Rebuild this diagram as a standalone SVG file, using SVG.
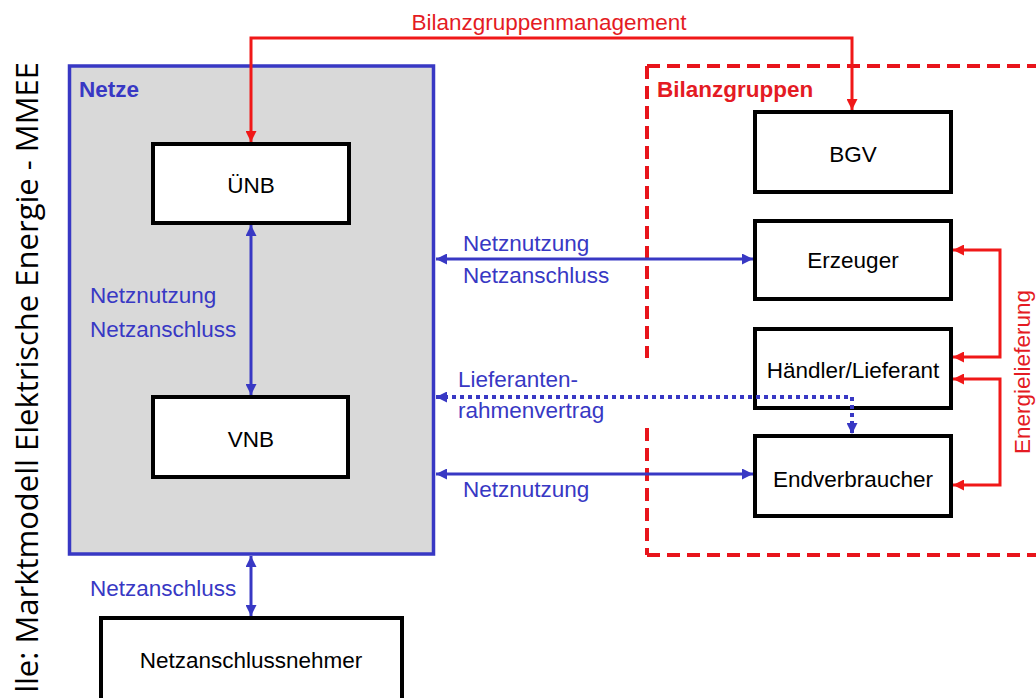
<svg xmlns="http://www.w3.org/2000/svg" width="1036" height="698" viewBox="0 0 1036 698">
<defs>
<style>
.box{fill:#fff;stroke:#000;stroke-width:4}
.lbl{font-family:"Liberation Sans",Arial,sans-serif;font-size:22.5px}
.blk{fill:#000}
.blue{fill:#3838c4}
.red{fill:#e41b23}
.b{font-weight:bold}
.bl{fill:none;stroke:#3838c4;stroke-width:3}
.rl{fill:none;stroke:#f01818;stroke-width:3}
.dot{fill:none;stroke:#3838c4;stroke-width:4;stroke-dasharray:4 4}
.dash{fill:none;stroke:#e8141b;stroke-width:4;stroke-dasharray:13 7}
</style>
<marker id="ab" viewBox="0 0 10 10" refX="10" refY="5" markerUnits="userSpaceOnUse" markerWidth="11" markerHeight="11" orient="auto-start-reverse"><path d="M0,0 L10,5 L0,10 z" fill="#3838c4"/></marker>
<marker id="ar" viewBox="0 0 10 10" refX="10" refY="5" markerUnits="userSpaceOnUse" markerWidth="11" markerHeight="11" orient="auto-start-reverse"><path d="M0,0 L10,5 L0,10 z" fill="#f01818"/></marker>
</defs>
<rect width="1036" height="698" fill="#fff"/>

<text class="lbl" style="font-family:'Open Sans','Noto Sans',sans-serif;font-size:31px" fill="#000" text-anchor="end" transform="translate(38,62) rotate(-90)">lle: Marktmodell Elektrische Energie - MMEE</text>

<g id="netze">
<rect x="69.5" y="66" width="364" height="488" fill="#d9d9d9" stroke="#3838c4" stroke-width="3.5"/>
<text class="lbl blue b" x="79" y="97">Netze</text>
</g>

<g id="bilanzgruppen">
<path class="dash" d="M647,66 H1040 M647,555 H1040 M647,66 V358 M647,428 V555"/>
<text class="lbl red b" x="657" y="97">Bilanzgruppen</text>
</g>

<g id="unb"><rect class="box" x="153" y="144" width="196" height="79"/><text class="lbl blk" x="251" y="193" text-anchor="middle">ÜNB</text></g>
<g id="vnb"><rect class="box" x="153" y="397" width="195" height="80"/><text class="lbl blk" x="251" y="447" text-anchor="middle">VNB</text></g>
<g id="netzanschlussnehmer"><rect class="box" x="101" y="618" width="301" height="95"/><text class="lbl blk" x="251" y="668" text-anchor="middle">Netzanschlussnehmer</text></g>
<g id="bgv"><rect class="box" x="755" y="112" width="196" height="80"/><text class="lbl blk" x="853" y="162" text-anchor="middle">BGV</text></g>
<g id="erzeuger"><rect class="box" x="755" y="221" width="196" height="78"/><text class="lbl blk" x="853" y="268" text-anchor="middle">Erzeuger</text></g>
<g id="haendler"><rect class="box" x="755" y="329" width="196" height="79"/><text class="lbl blk" x="853" y="378" text-anchor="middle">Händler/Lieferant</text></g>
<g id="endverbraucher"><rect class="box" x="755" y="436" width="196" height="80"/><text class="lbl blk" x="853" y="487" text-anchor="middle">Endverbraucher</text></g>

<g id="connectors">
<path class="rl" d="M251,142 V38 H852 V110" marker-start="url(#ar)" marker-end="url(#ar)"/>
<path class="bl" d="M251,225 V395" marker-start="url(#ab)" marker-end="url(#ab)"/>
<path class="bl" d="M436,259 H753" marker-start="url(#ab)" marker-end="url(#ab)"/>
<path class="bl" d="M436,474 H753" marker-start="url(#ab)" marker-end="url(#ab)"/>
<path class="dot" d="M436,397 H852 V434" marker-start="url(#ab)" marker-end="url(#ab)"/>
<path class="bl" d="M251,556 V616" marker-start="url(#ab)" marker-end="url(#ab)"/>
<path class="rl" d="M953,250 H1000 V357 H953" marker-start="url(#ar)" marker-end="url(#ar)"/>
<path class="rl" d="M953,379 H1000 V485 H953" marker-start="url(#ar)" marker-end="url(#ar)"/>

<text class="lbl red" x="549" y="30" text-anchor="middle">Bilanzgruppenmanagement</text>
<text class="lbl blue" x="90" y="303">Netznutzung</text>
<text class="lbl blue" x="90" y="337">Netzanschluss</text>
<text class="lbl blue" x="463" y="251">Netznutzung</text>
<text class="lbl blue" x="463" y="283">Netzanschluss</text>
<text class="lbl blue" x="458" y="387">Lieferanten-</text>
<text class="lbl blue" x="458" y="418">rahmenvertrag</text>
<text class="lbl blue" x="463" y="497">Netznutzung</text>
<text class="lbl blue" x="90" y="596">Netzanschluss</text>
<text class="lbl red" text-anchor="middle" transform="translate(1030,372) rotate(-90)">Energielieferung</text>
</g>
</svg>
